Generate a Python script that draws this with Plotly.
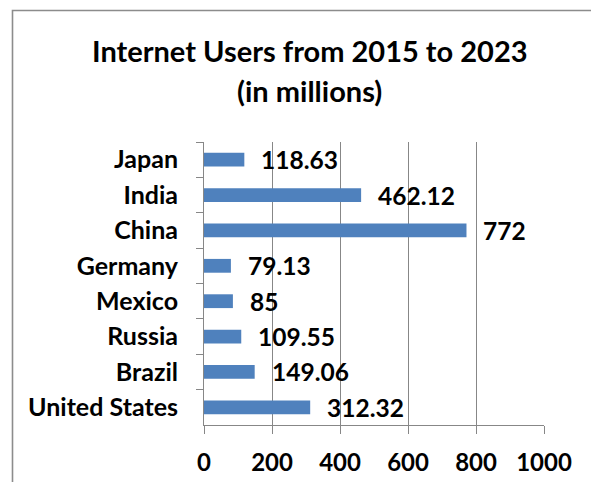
import plotly.graph_objects as go

countries = ["Japan", "India", "China", "Germany", "Mexico", "Russia", "Brazil", "United States"]
users = [118.63, 462.12, 772, 79.13, 85, 109.55, 149.06, 312.32]
value_labels = ["118.63", "462.12", "772", "79.13", "85", "109.55", "149.06", "312.32"]
x_ticks = [0, 200, 400, 600, 800, 1000]
title_lines = ["Internet Users from 2015 to 2023", "(in millions)"]

FONT = "Lato"
GRAY = "#878787"
W, H = 591, 482
L, R, T, B = 204, 47, 142, 57
pw = W - L - R
ph = H - T - B

fig = go.Figure()
fig.add_trace(go.Bar(
    x=users, y=countries, orientation="h",
    marker=dict(color="#4F81BD", line=dict(width=0)),
    hoverinfo="x+y",
))

annotations = []
for c, v, lab in zip(countries, users, value_labels):
    annotations.append(dict(
        x=v, y=c, xref="x", yref="y", text=lab, showarrow=False,
        xanchor="left", yanchor="middle", xshift=15,
        font=dict(family=FONT, size=24.5, color="black", weight=700),
    ))

def py(px):
    return (H - B - px) / ph

for line, ycen in zip(title_lines, [50.5, 90.5]):
    annotations.append(dict(
        x=(309.5 - L) / pw, y=py(ycen), xref="paper", yref="paper",
        text=line, showarrow=False, xanchor="center", yanchor="middle",
        font=dict(family=FONT, size=29, color="black", weight=700),
    ))

fig.update_layout(
    width=W, height=H,
    margin=dict(l=L, r=R, t=T, b=B, pad=0, autoexpand=False),
    paper_bgcolor="white", plot_bgcolor="white",
    showlegend=False,
    bargap=0.61,
    annotations=annotations,
    shapes=[dict(
        type="rect", xref="paper", yref="paper",
        x0=(12.5 - L) / pw, x1=(W + 20 - L) / pw,
        y0=py(H + 20), y1=py(10.5),
        line=dict(color="#8c8c8c", width=1.6), fillcolor="rgba(0,0,0,0)", layer="below",
    )],
    xaxis=dict(
        range=[0, 1000], tickvals=x_ticks, ticktext=[str(t) for t in x_ticks],
        showgrid=True, gridcolor=GRAY, gridwidth=1,
        showline=True, linecolor=GRAY, linewidth=1,
        ticks="outside", ticklen=8, tickcolor=GRAY, tickwidth=1,
        zeroline=False, ticklabelstandoff=8, automargin=False,
        tickfont=dict(family=FONT, size=24, color="black", weight=700),
        fixedrange=True,
    ),
    yaxis=dict(
        autorange="reversed", type="category",
        showgrid=False, showline=True, linecolor=GRAY, linewidth=1,
        ticks="outside", ticklen=7, tickcolor=GRAY, tickwidth=1,
        tickson="boundaries", ticklabelstandoff=20, automargin=False,
        tickfont=dict(family=FONT, size=25, color="black", weight=700),
        fixedrange=True,
    ),
)

fig.write_html("out.html")
